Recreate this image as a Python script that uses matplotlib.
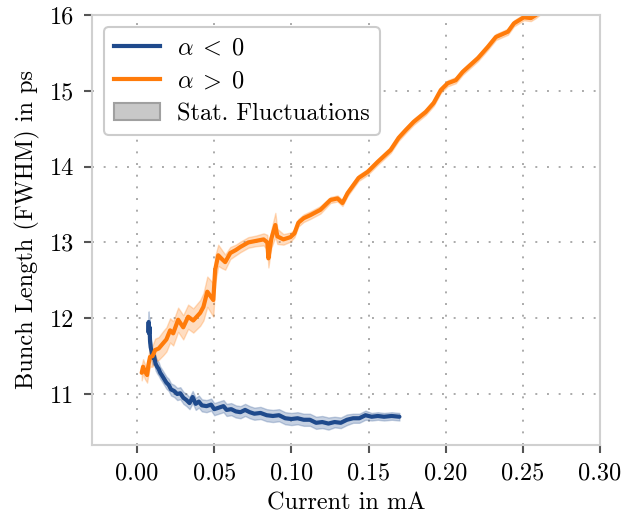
import matplotlib
matplotlib.use("Agg")
import matplotlib.pyplot as plt
import numpy as np
from matplotlib.patches import Patch
from matplotlib.lines import Line2D

plt.rcParams['font.family'] = 'serif'
plt.rcParams['font.serif'] = ['cmr10', 'DejaVu Serif']
plt.rcParams['mathtext.fontset'] = 'cm'
plt.rcParams['axes.formatter.use_mathtext'] = True
plt.rcParams['axes.unicode_minus'] = False

# ---- data: alpha < 0 (blue) ----
neg_current = [0.0072, 0.0075, 0.0078, 0.0081, 0.0084, 0.0088, 0.0095, 0.0100, 0.0110, 0.0120,
               0.0130, 0.0140, 0.0150, 0.0160, 0.0175, 0.0190, 0.0205, 0.0220, 0.0240, 0.0260,
               0.0280, 0.0300, 0.0320, 0.0340, 0.0360, 0.0380, 0.0400, 0.0420, 0.0450, 0.0480,
               0.0500, 0.0530, 0.0560, 0.0580, 0.0610, 0.0640, 0.0670, 0.0700, 0.0730, 0.0760,
               0.0800, 0.0840, 0.0880, 0.0920, 0.0960, 0.1000, 0.1040, 0.1080, 0.1120, 0.1160,
               0.1200, 0.1240, 0.1280, 0.1320, 0.1360, 0.1400, 0.1440, 0.1480, 0.1520, 0.1560,
               0.1600, 0.1650, 0.1700]
neg_length = [11.82, 11.95, 11.80, 11.88, 11.70, 11.62, 11.55, 11.48, 11.50, 11.40,
              11.36, 11.33, 11.28, 11.25, 11.20, 11.15, 11.12, 11.06, 11.04, 11.00,
              11.01, 10.95, 10.92, 10.88, 10.96, 10.87, 10.90, 10.85, 10.84, 10.86,
              10.80, 10.82, 10.84, 10.79, 10.80, 10.77, 10.76, 10.79, 10.76, 10.74,
              10.75, 10.72, 10.71, 10.72, 10.68, 10.67, 10.68, 10.66, 10.66, 10.62,
              10.63, 10.61, 10.63, 10.62, 10.66, 10.68, 10.68, 10.72, 10.70, 10.71,
              10.70, 10.71, 10.70]
neg_err = [0.14, 0.14, 0.13, 0.13, 0.12, 0.12, 0.11, 0.10, 0.10, 0.09,
           0.09, 0.09, 0.08, 0.08, 0.08, 0.08, 0.08, 0.08, 0.08, 0.08,
           0.08, 0.08, 0.08, 0.08, 0.08, 0.08, 0.08, 0.08, 0.08, 0.08,
           0.08, 0.08, 0.08, 0.08, 0.08, 0.08, 0.08, 0.08, 0.08, 0.08,
           0.08, 0.08, 0.08, 0.08, 0.08, 0.08, 0.08, 0.08, 0.08, 0.08,
           0.08, 0.08, 0.07, 0.07, 0.07, 0.06, 0.06, 0.06, 0.05, 0.05,
           0.05, 0.05, 0.05]

# ---- data: alpha > 0 (orange) ----
pos_current = [0.0030, 0.0039, 0.0050, 0.0065, 0.0075, 0.0084, 0.0100, 0.0117, 0.0140, 0.0169,
               0.0190, 0.0214, 0.0234, 0.0266, 0.0299, 0.0331, 0.0364, 0.0409, 0.0430, 0.0455,
               0.0494, 0.0506, 0.0526, 0.0550, 0.0571, 0.0604, 0.0640, 0.0669, 0.0721, 0.0770,
               0.0820, 0.0844, 0.0851, 0.0870, 0.0896, 0.0909, 0.0948, 0.0994, 0.1020, 0.1045,
               0.1080, 0.1123, 0.1188, 0.1253, 0.1299, 0.1331, 0.1364, 0.1435, 0.1494, 0.1558,
               0.1643, 0.1695, 0.1740, 0.1792, 0.1870, 0.1922, 0.1968, 0.2013, 0.2065, 0.2110,
               0.2208, 0.2273, 0.2325, 0.2403, 0.2442, 0.2506, 0.2552, 0.2584, 0.2620]
pos_length = [11.28, 11.36, 11.30, 11.25, 11.40, 11.49, 11.50, 11.58, 11.60, 11.67,
              11.72, 11.84, 11.80, 11.98, 11.88, 12.02, 11.97, 12.07, 12.15, 12.35,
              12.24, 12.64, 12.83, 12.78, 12.74, 12.86, 12.90, 12.94, 13.00, 13.02,
              13.04, 13.00, 12.79, 13.05, 13.23, 13.08, 13.04, 13.07, 13.12, 13.26,
              13.32, 13.36, 13.43, 13.56, 13.58, 13.52, 13.65, 13.85, 13.93, 14.06,
              14.22, 14.38, 14.48, 14.59, 14.72, 14.84, 15.01, 15.10, 15.14, 15.25,
              15.43, 15.58, 15.71, 15.78, 15.89, 15.97, 15.96, 16.00, 16.06]
pos_err = [0.10, 0.10, 0.10, 0.10, 0.12, 0.13, 0.14, 0.15, 0.15, 0.16,
           0.16, 0.16, 0.16, 0.16, 0.16, 0.16, 0.16, 0.17, 0.18, 0.20,
           0.22, 0.18, 0.14, 0.12, 0.10, 0.08, 0.07, 0.07, 0.07, 0.07,
           0.08, 0.10, 0.12, 0.12, 0.16, 0.10, 0.07, 0.06, 0.05, 0.05,
           0.05, 0.05, 0.05, 0.04, 0.04, 0.04, 0.04, 0.04, 0.04, 0.04,
           0.04, 0.04, 0.04, 0.04, 0.04, 0.04, 0.04, 0.04, 0.04, 0.04,
           0.04, 0.04, 0.04, 0.04, 0.04, 0.04, 0.04, 0.04, 0.04]

x_ticks = [0.00, 0.05, 0.10, 0.15, 0.20, 0.25, 0.30]
y_ticks = [11, 12, 13, 14, 15, 16]

blue = '#1f4a8c'
orange = '#ff7b0a'

fig = plt.figure(figsize=(6.39, 5.19), dpi=100)
ax = fig.add_axes([0.144, 0.143, 0.795, 0.828])

nx, ny, ne = map(np.array, (neg_current, neg_length, neg_err))
px, py, pe = map(np.array, (pos_current, pos_length, pos_err))

ax.fill_between(nx, ny - ne, ny + ne, color=blue, alpha=0.25, lw=1.0, edgecolor=blue)
ax.fill_between(px, py - pe, py + pe, color=orange, alpha=0.25, lw=1.0, edgecolor=orange)
ax.plot(nx, ny, color=blue, lw=3.0, solid_joinstyle='round', solid_capstyle='round')
ax.plot(px, py, color=orange, lw=3.0, solid_joinstyle='round', solid_capstyle='round')

ax.set_xlim(-0.0292, 0.30)
ax.set_ylim(10.33, 16.0)
ax.set_xticks(x_ticks)
ax.set_xticklabels([f'{v:.2f}' for v in x_ticks])
ax.set_yticks(y_ticks)
ax.set_yticklabels([str(v) for v in y_ticks])

ax.grid(True, linestyle=(0, (1, 5)), color='#aaaaaa', linewidth=1.4)
ax.set_axisbelow(True)
for s in ax.spines.values():
    s.set_color('#d0d0d0')
    s.set_linewidth(1.5)
ax.tick_params(axis='both', which='major', labelsize=17.5, length=6, width=1.5,
               color='#555555', direction='out', pad=7)

ax.set_xlabel('Current in mA', fontsize=17.5, labelpad=5)
ax.set_ylabel('Bunch Length (FWHM) in ps', fontsize=17.5, labelpad=7)

handles = [Line2D([0], [0], color=blue, lw=3.0),
           Line2D([0], [0], color=orange, lw=3.0),
           Patch(facecolor='#c8c8c8', edgecolor='#a0a0a0', lw=1.5)]
labels = [r'$\alpha\;<\;0$', r'$\alpha\;>\;0$', 'Stat. Fluctuations']
leg = ax.legend(handles, labels, loc='upper left', fontsize=17.5, frameon=True,
                fancybox=True, framealpha=1.0, edgecolor='#cccccc',
                borderpad=0.4, handlelength=1.9, handletextpad=0.7,
                labelspacing=0.45, borderaxespad=0.5)
leg.get_frame().set_linewidth(1.5)

fig.savefig('out.png', dpi=100)
